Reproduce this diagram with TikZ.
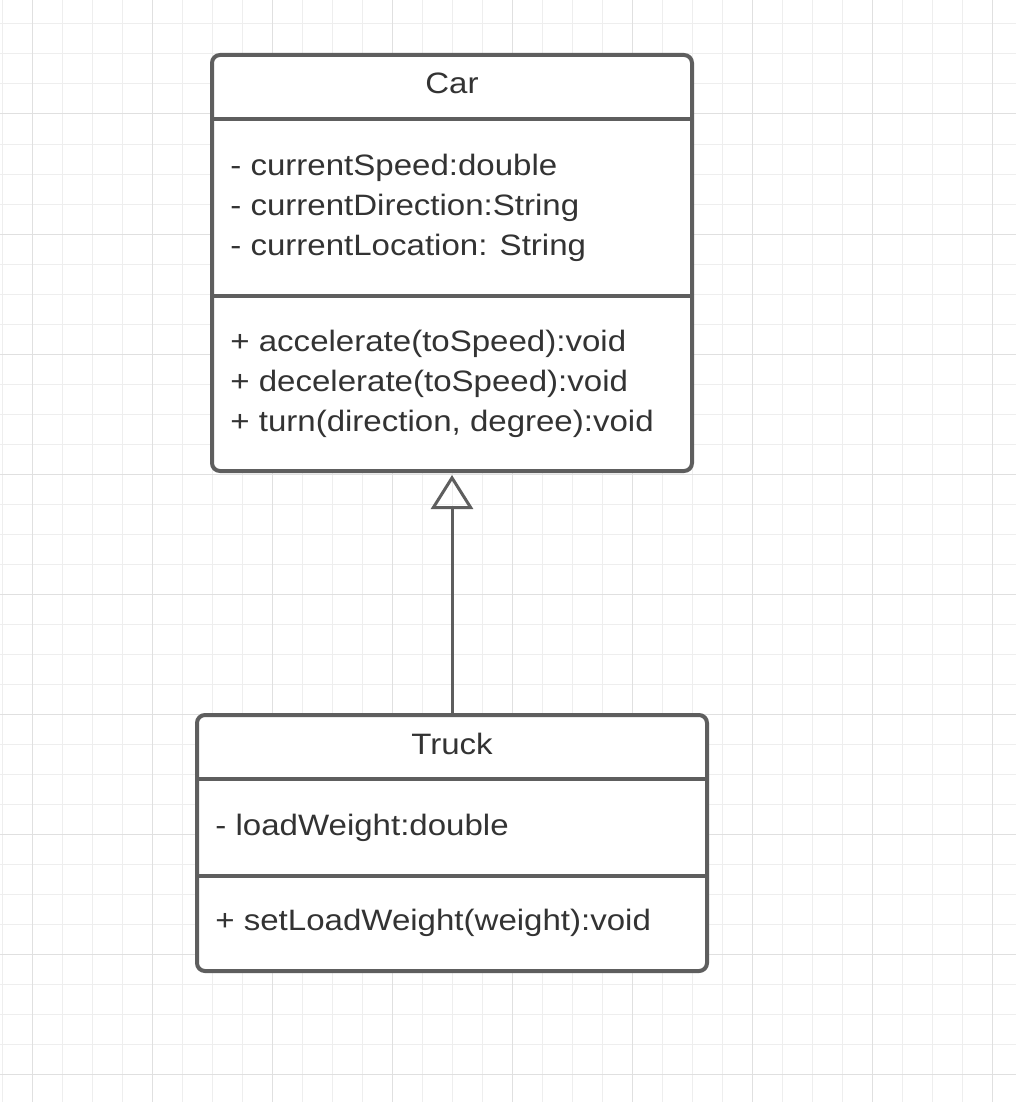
\documentclass[tikz,border=0pt]{standalone}
\usepackage{fontspec}
\setmainfont[FakeStretch=1.12]{Liberation Sans}
\usetikzlibrary{positioning, arrows.meta}
\definecolor{boxgray}{HTML}{5E5E5E}
\definecolor{textgray}{HTML}{333333}
\definecolor{gridlight}{HTML}{EEEEEE}
\definecolor{griddark}{HTML}{E0E0E0}
\tikzstyle{umlclass} = [rectangle, rounded corners=4pt, draw=boxgray, line width=2pt, fill=white, inner sep=0pt, outer sep=0pt]
\tikzstyle{divider} = [draw=boxgray, line width=2pt]
\tikzstyle{umltext} = [inner sep=0pt, align=left, text=textgray, font=\fontsize{14.75pt}{20pt}\selectfont]
\tikzstyle{inherit} = [-{Triangle[open, length=17pt, width=21pt]}, draw=boxgray, line width=1.5pt, shorten >=2pt]

\begin{document}
\begin{tikzpicture}[x=0.5pt, y=-0.5pt, node distance=122pt]
\useasboundingbox (0,0) rectangle (1016,1102);
\fill[white] (0,0) rectangle (1016,1102);
\foreach \gx in {2.7,32.7,...,1010} \draw[gridlight, line width=0.5pt] (\gx,0) -- (\gx,1102);
\foreach \gy in {24,54,...,1100} \draw[gridlight, line width=0.5pt] (0,\gy) -- (1016,\gy);
\foreach \gx in {32.7,152.7,...,1010} \draw[griddark, line width=0.5pt] (\gx,0) -- (\gx,1102);
\foreach \gy in {114,234,...,1100} \draw[griddark, line width=0.5pt] (0,\gy) -- (1016,\gy);

\node (car)[umlclass, minimum width=240pt, minimum height=208pt] at (452,263) {};
\node (truck)[umlclass, minimum width=255pt, minimum height=128pt, below=of car] {};
\draw [divider] (car.west |- 0,119) -- (car.east |- 0,119);
\draw [divider] (car.west |- 0,296) -- (car.east |- 0,296);
\draw [divider] (truck.west |- 0,779) -- (truck.east |- 0,779);
\draw [divider] (truck.west |- 0,876) -- (truck.east |- 0,876);

\node (carname)[umltext, anchor=base] at (452,94) {Car};
\node (carattr)[umltext, anchor=base west] at (230,255.5) {- currentSpeed:double\\- currentDirection:String\\- currentLocation: String};
\node (carops)[umltext, anchor=base west] at (230,431) {+ accelerate(toSpeed):void\\+ decelerate(toSpeed):void\\+ turn(direction, degree):void};
\node (truckname)[umltext, anchor=base] at (452,754) {Truck};
\node (truckattr)[umltext, anchor=base west] at (215,835) {- loadWeight:double};
\node (truckops)[umltext, anchor=base west] at (215,930) {+ setLoadWeight(weight):void};

\draw [inherit] (truck) -- (car);
\end{tikzpicture}
\end{document}
